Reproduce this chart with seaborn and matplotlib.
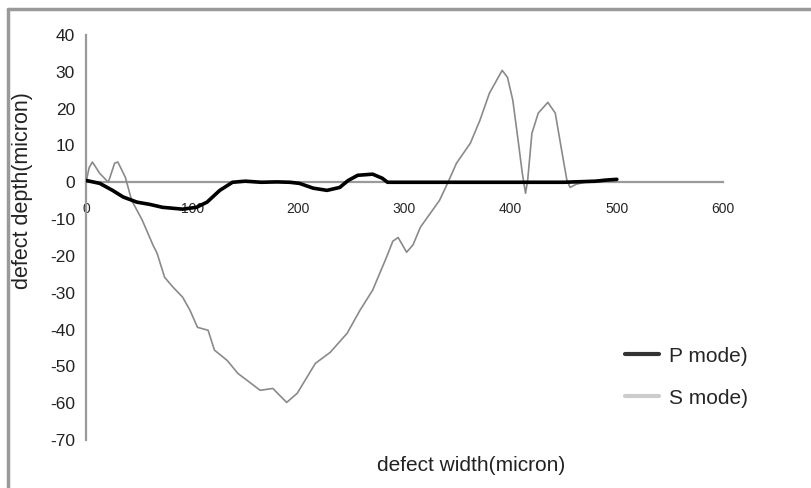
import numpy as np
import pandas as pd
import matplotlib
matplotlib.use("Agg")
import matplotlib.pyplot as plt
from matplotlib.lines import Line2D
import seaborn as sns

# P mode profile (black, thick)
p_x = [0, 13, 25, 35, 48, 60, 72, 91, 104, 114, 126, 138, 150, 165, 180, 192,
       201, 214, 227, 239, 247, 256, 270, 279, 284, 300, 350, 400, 450, 480, 490, 500]
p_y = [0.5, -0.3, -2.2, -4.0, -5.4, -6.0, -6.8, -7.3, -6.8, -5.4, -2.2, 0.0, 0.3, 0.0, 0.1, 0.0,
       -0.3, -1.6, -2.2, -1.4, 0.5, 1.9, 2.2, 1.1, 0.0, 0.0, 0.0, 0.0, 0.0, 0.3, 0.6, 0.8]

# S mode profile (grey, thin)
s_x = [0, 3, 6, 13, 21, 27, 30, 37, 43, 53, 63, 67, 74, 82, 91, 98, 105, 115, 121,
       133, 143, 154, 164, 176, 189, 199, 216, 230, 246, 258, 270, 283, 289, 294, 302,
       308, 315, 333, 341, 349, 362, 371, 380, 392, 397, 402, 407, 411, 414, 416, 420,
       426, 435, 442, 448, 453, 456, 462, 470, 480, 490, 500]
s_y = [0, 4, 5.5, 2.4, 0, 5.2, 5.5, 1.4, -4.9, -10.3, -17, -19.3, -25.8, -28.5, -31.2, -34.8, -39.4, -40.2, -45.6,
       -48.4, -51.9, -54.3, -56.5, -56, -59.8, -57.3, -49.2, -46.2, -41, -34.8, -29.3, -20.4, -16, -15, -19,
       -17, -12.2, -4.9, 0, 5.2, 10.6, 16.8, 24.2, 30.4, 28.5, 22.3, 11.4, 2.4, -3, 0.5, 13.3,
       18.8, 21.7, 18.8, 8.7, 0.5, -1.4, -0.5, 0, 0, 0.3, 0.5]

x_ticks = [0, 100, 200, 300, 400, 500, 600]
y_ticks = [40, 30, 20, 10, 0, -10, -20, -30, -40, -50, -60, -70]
labels = ["P mode)", "S mode)"]

sns.set_style("white")
plt.rcParams['font.family'] = ['Liberation Sans', 'DejaVu Sans']

fig = plt.figure(figsize=(8.12, 4.88), dpi=100)
ax = fig.add_axes([86 / 812, 1 - 440 / 488, 637 / 812, 405 / 488])

p_df = pd.DataFrame({"x": p_x, "y": p_y})
s_df = pd.DataFrame({"x": s_x, "y": s_y})
sns.lineplot(data=s_df, x="x", y="y", ax=ax, color="#8a8a8a", linewidth=1.2,
             estimator=None, sort=False, zorder=3)
sns.lineplot(data=p_df, x="x", y="y", ax=ax, color="black", linewidth=2.6,
             estimator=None, sort=False, zorder=4)

ax.set_xlim(0, 600)
ax.set_ylim(-70, 40)
ax.set_xticks(x_ticks)
ax.set_yticks(y_ticks)
ax.set_xticklabels([str(t) for t in x_ticks], fontsize=11, color="#9a9a9a")
ax.set_yticklabels([str(t) for t in y_ticks], fontsize=12.5, color="#222222")

for side in ["top", "right"]:
    ax.spines[side].set_visible(False)
ax.spines["bottom"].set_position(("data", 0))
for side in ["left", "bottom"]:
    ax.spines[side].set_color("#9a9a9a")
    ax.spines[side].set_linewidth(1.6)
ax.tick_params(axis="both", direction="in", length=3, width=1.2, color="#9a9a9a")
ax.tick_params(axis="x", pad=14)
ax.tick_params(axis="y", pad=8)

ax.set_xlabel("defect width(micron)", fontsize=15, color="#222222")
ax.xaxis.set_label_coords(0.604, -0.040)
ax.set_ylabel("defect depth(micron)", fontsize=15.5, color="#222222")
ax.yaxis.set_label_coords(-0.083, 0.617)

handles = [Line2D([], [], color="#333333", linewidth=3),
           Line2D([], [], color="#cccccc", linewidth=3)]
ax.legend(handles, labels, loc="center left", bbox_to_anchor=(0.846, 0.155),
          frameon=False, fontsize=15, handlelength=1.65, handletextpad=0.45,
          labelspacing=1.1, borderaxespad=0, borderpad=0)

# grey frame around the chart (only top and left edges are visible)
fig.add_artist(Line2D([8 / 812, 1], [1 - 9 / 488, 1 - 9 / 488], color="#9a9a9a",
                      linewidth=2.5, transform=fig.transFigure))
fig.add_artist(Line2D([8 / 812, 8 / 812], [0, 1 - 9 / 488], color="#9a9a9a",
                      linewidth=2.5, transform=fig.transFigure))

fig.savefig("out.png", dpi=100)
